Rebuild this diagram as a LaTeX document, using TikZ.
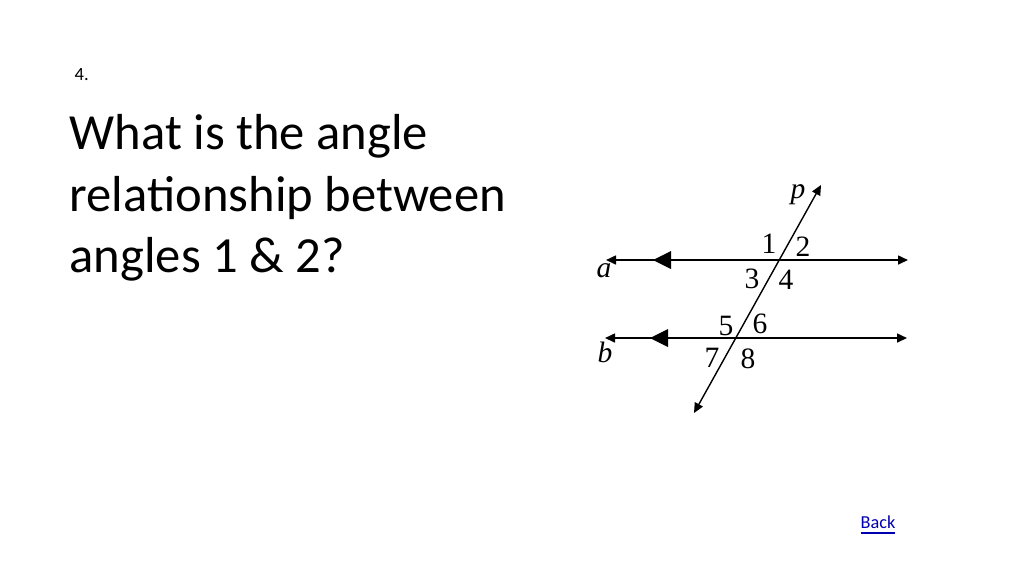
\documentclass[tikz,border=0pt]{standalone}
\usepackage{fontspec}
\setmainfont{Carlito}
\newfontfamily\figfont{Liberation Serif}
\usetikzlibrary{arrows.meta}

\begin{document}
\begin{tikzpicture}[x=0.1mm,y=-0.1mm,
  line/.style={line width=0.45pt,{Triangle[length=1mm,width=0.9mm]}-{Triangle[length=1mm,width=0.9mm]}},
  num/.style={font=\figfont\fontsize{8.4pt}{9pt}\selectfont,inner sep=0pt},
  var/.style={font=\figfont\itshape\fontsize{8.4pt}{9pt}\selectfont,inner sep=0pt}]
\useasboundingbox (0,0) rectangle (1024,576);
% text
\node[anchor=base west,inner sep=0pt,font=\fontsize{5.3pt}{6pt}\selectfont] (num) at (74,80) {4.};
\node[anchor=base west,inner sep=0pt,align=left,font=\fontsize{14.4pt}{17.36pt}\selectfont] (question) at (69,272)
  {What is the angle\\relationship between\\angles 1 \& 2?};
\node[anchor=base west,inner sep=0pt,font=\fontsize{5.2pt}{6pt}\selectfont,text=blue!70!black] (back) at (860,528) {\underline{Back}};
% lines
\coordinate (a1) at (606,260); \coordinate (a2) at (908,260);
\coordinate (b1) at (605,338); \coordinate (b2) at (907,338);
\coordinate (p1) at (821,185); \coordinate (p2) at (694,413);
\draw[line] (a1) -- (a2);
\draw[line] (b1) -- (b2);
\draw[line,line width=0.4pt] (p2) -- (p1);
% parallel marks
\fill (653,260) -- (671,251) -- (671,269) -- cycle;
\fill (650,338) -- (668,329) -- (668,347) -- cycle;
% labels
\node[var] (p) at (798,195) {p};
\node[var] (a) at (604,271) {a};
\node[var] (b) at (605,352) {b};
\node[num] (n1) at (769,244) {1};
\node[num] (n2) at (803,247) {2};
\node[num] (n3) at (752,279) {3};
\node[num] (n4) at (786,280) {4};
\node[num] (n5) at (726,326) {5};
\node[num] (n6) at (760,324) {6};
\node[num] (n7) at (712,358) {7};
\node[num] (n8) at (748,359) {8};
\end{tikzpicture}
\end{document}
